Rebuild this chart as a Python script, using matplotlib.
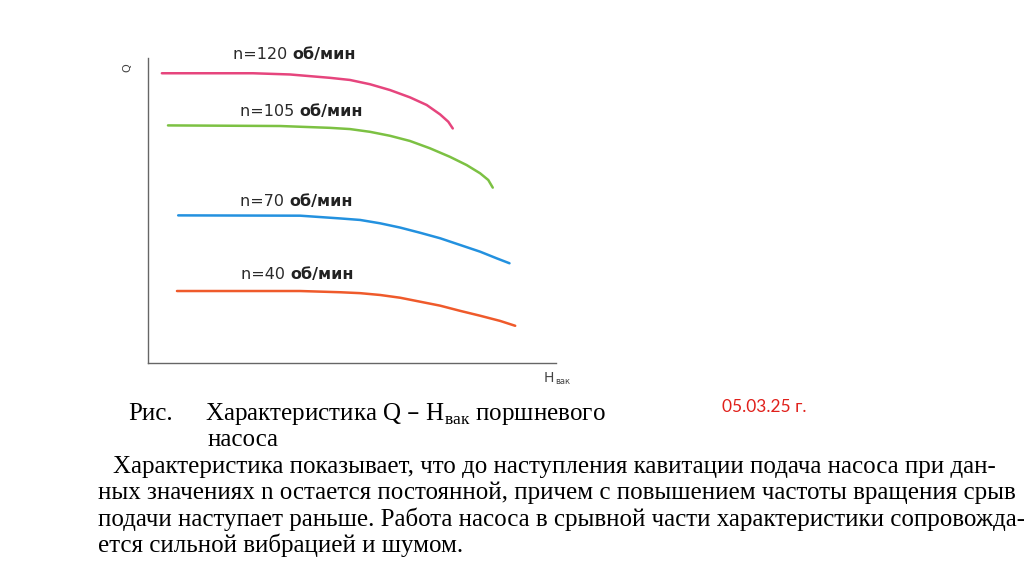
import matplotlib.pyplot as plt

# ДАННЫЕ (условные единицы)

h_120 = [3.4, 25.7, 34.8, 44.6, 49.5, 54.4, 59.3, 64.2, 68.3, 71.6, 73.6, 74.7]
q_120 = [95.0, 95.0, 94.6, 93.5, 92.8, 91.4, 89.5, 87.1, 84.6, 81.5, 79.1, 76.9]

h_105 = [4.9, 32.4, 44.6, 49.5, 54.4, 59.3, 64.2, 69.1, 74.0, 78.1, 81.4, 83.4, 84.5]
q_105 = [77.9, 77.7, 77.1, 76.7, 75.8, 74.5, 72.8, 70.4, 67.6, 64.9, 62.2, 60.0, 57.5]

h_70 = [7.4, 37.3, 47.1, 52.0, 56.9, 61.8, 66.7, 71.6, 76.5, 81.4, 85.5, 88.6]
q_70 = [48.4, 48.3, 47.4, 46.9, 45.8, 44.4, 42.7, 40.9, 38.7, 36.5, 34.3, 32.7]

h_40 = [7.1, 37.3, 47.1, 52.0, 56.9, 61.8, 66.7, 71.6, 76.5, 81.4, 86.3, 90.0]
q_40 = [23.6, 23.6, 23.2, 22.9, 22.3, 21.4, 20.1, 18.8, 17.1, 15.5, 13.8, 12.2]

obroty = ["120", "105", "70", "40"]
kolory = ["#E6457D", "#7CC143", "#2391DF", "#EF5A2B"]

# polozenie podpisow krzywych (w jednostkach danych)
podpis_x = [20.8, 22.5, 22.5, 22.8]
podpis_y = [101.3, 82.3, 53.1, 28.9]

tekst = [
    "Характеристика показывает, что до наступления кавитации подача насоса при дан-",
    "ных значениях n остается постоянной, причем с повышением частоты вращения срыв",
    "подачи наступает раньше. Работа насоса в срывной части характеристики сопровожда-",
    "ется сильной вибрацией и шумом.",
]

# WYKRES

fig = plt.figure(figsize=(10.24, 5.74), dpi=100)
fig.patch.set_facecolor("white")
ax = fig.add_axes([148 / 1024, 1 - 363 / 574, 408 / 1024, 305 / 574])

krzywe = [(h_120, q_120), (h_105, q_105), (h_70, q_70), (h_40, q_40)]
for (h, q), kol in zip(krzywe, kolory):
    ax.plot(h, q, color=kol, lw=1.8, solid_capstyle="round", solid_joinstyle="round")

ax.set_xlim(0, 100)
ax.set_ylim(0, 100)
ax.set_xticks([])
ax.set_yticks([])
ax.spines["top"].set_visible(False)
ax.spines["right"].set_visible(False)
for s in ["left", "bottom"]:
    ax.spines[s].set_color("#666666")
    ax.spines[s].set_linewidth(1.0)
ax.patch.set_alpha(0)

for n, x, y in zip(obroty, podpis_x, podpis_y):
    t = ax.text(x, y, "n=" + n + " ", fontsize=11.5, color="#2a2a2a",
                family="DejaVu Sans", va="center", ha="left", clip_on=False)
    ax.annotate("об/мин", xy=(1, 0), xycoords=t, va="bottom", ha="left",
                fontsize=11.5, fontweight="bold", color="#222222", family="DejaVu Sans")

ax.text(-5, 97, "Q", rotation=90, fontsize=8, color="#444444", ha="center", va="center",
        family="DejaVu Sans", clip_on=False)
ax.text(97, -5, "H", fontsize=10, color="#444444", ha="left", va="center",
        family="DejaVu Sans", clip_on=False)
ax.text(99.9, -6, "вак", fontsize=6, color="#444444", ha="left", va="center",
        family="DejaVu Sans", clip_on=False)

# podpis rysunku
serif = "Liberation Serif"
fs = 18
fig.text(128 / 1024, 1 - 414 / 574, "Рис.", fontsize=fs, family=serif, va="center")
fig.text(205 / 1024, 1 - 414 / 574, "Характеристика Q – H$_{\\mathregular{вак}}$ поршневого",
         fontsize=fs, family=serif, va="center")
fig.text(208 / 1024, 1 - 440 / 574, "насоса", fontsize=fs, family=serif, va="center")

fig.text(722 / 1024, 1 - 407 / 574, "05.03.25 г.", fontsize=12.5, color="#E0201B",
         family="Lato", va="center")

wiersze_y = [467, 493, 519, 545]
wiersze_x = [113, 98, 98, 98]
for w, x, y in zip(tekst, wiersze_x, wiersze_y):
    fig.text(x / 1024, 1 - y / 574, w, fontsize=fs, family=serif, va="center")

plt.savefig("out.png", dpi=100, facecolor="white")
